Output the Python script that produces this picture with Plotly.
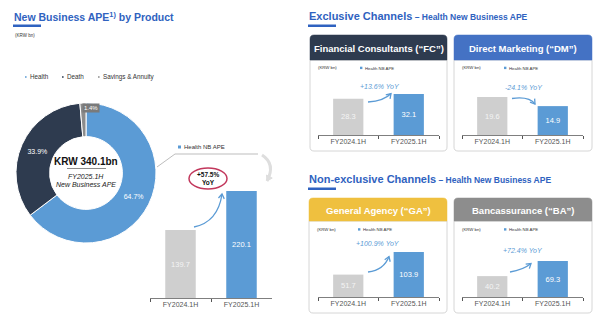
import plotly.graph_objects as go

# ---- data ----
periods = ["FY2024.1H", "FY2025.1H"]
product_names = ["Health", "Death", "Savings & Annuity"]
product_share = [64.7, 33.9, 1.4]
total_ape = "KRW 340.1bn"
health_nb_ape = [139.7, 220.1]
health_yoy = "+57.5%"
fc_ape = [28.3, 32.1]
dm_ape = [19.6, 14.9]
ga_ape = [51.7, 103.9]
ba_ape = [40.2, 69.3]
channel_yoy = {"FC": "+13.6% YoY", "DM": "-24.1% YoY", "GA": "+100.9% YoY", "BA": "+72.4% YoY"}

# ---- styling ----
W, H = 600, 324
FONT = "Liberation Sans, Arial, sans-serif"
BLUE = "#5b9bd5"
NAVY = "#2e3b4f"
SGRAY = "#8c8c8c"
BARGRAY = "#cfcfcf"
TITLE_BLUE = "#2f62c0"
AXIS_GRAY = "#7f7f7f"


def X(px):
    return px / W


def Y(py):
    return 1 - py / H


def pt(x, y):
    return f"{X(x):.5f},{Y(y):.5f}"


fig = go.Figure()
shapes = []
annotations = []


def text(s, x, y, size, color="#222", xanchor="center", bold=False, italic=False, **kw):
    if bold:
        s = f"<b>{s}</b>"
    if italic:
        s = f"<i>{s}</i>"
    annotations.append(dict(text=s, x=X(x), y=Y(y), xref="paper", yref="paper",
                            xanchor=xanchor, yanchor="middle", showarrow=False,
                            font=dict(size=size, color=color, family=FONT), **kw))


def path(d, color, width=1, fill=None, layer="above"):
    shapes.append(dict(type="path", path=d, xref="paper", yref="paper",
                       line=dict(color=color, width=width),
                       fillcolor=fill if fill else "rgba(0,0,0,0)", layer=layer))


def rect(x0, y0, x1, y1, fill, line=None, width=0, layer="below"):
    shapes.append(dict(type="rect", xref="paper", yref="paper", x0=X(x0), x1=X(x1),
                       y0=Y(y1), y1=Y(y0), fillcolor=fill,
                       line=dict(color=line or fill, width=width), layer=layer))


def curved_arrow(x0, y0, cx, cy, x1, y1, color, width=1.3, head=4.5, filled=False):
    path(f"M {pt(x0, y0)} Q {pt(cx, cy)} {pt(x1, y1)}", color, width)
    dx, dy = x1 - cx, y1 - cy
    n = (dx * dx + dy * dy) ** 0.5
    ux, uy = dx / n, dy / n
    px_, py_ = -uy, ux
    a = (x1 - ux * head + px_ * head * 0.65, y1 - uy * head + py_ * head * 0.65)
    b = (x1 - ux * head - px_ * head * 0.65, y1 - uy * head - py_ * head * 0.65)
    if filled:
        path(f"M {pt(*a)} L {pt(x1, y1)} L {pt(*b)} Z", color, 1, fill=color)
    else:
        path(f"M {pt(*a)} L {pt(x1, y1)} L {pt(*b)}", color, width)


def header_panel(x0, y0, x1, yh, y1, color, title, r=4):
    # card body with rounded lower corners
    path(f"M {pt(x0, yh)} L {pt(x1, yh)} L {pt(x1, y1 - r)} Q {pt(x1, y1)} {pt(x1 - r, y1)} "
         f"L {pt(x0 + r, y1)} Q {pt(x0, y1)} {pt(x0, y1 - r)} Z",
         "#d6d6d6", 1, fill="white", layer="below")
    # header band with rounded upper corners
    path(f"M {pt(x0, yh)} L {pt(x0, y0 + r)} Q {pt(x0, y0)} {pt(x0 + r, y0)} "
         f"L {pt(x1 - r, y0)} Q {pt(x1, y0)} {pt(x1, y0 + r)} L {pt(x1, yh)} Z",
         color, 0.5, fill=color, layer="below")
    text(title, (x0 + x1) / 2, (y0 + yh) / 2 + 0.5, 9.5, "white", bold=True)


# ---- section titles ----
annotations.append(dict(text="<b>New Business APE<sup>1)</sup> by Product</b>", x=X(12), y=Y(16),
                        xref="paper", yref="paper", xanchor="left", yanchor="middle",
                        showarrow=False, font=dict(size=10.5, color=TITLE_BLUE, family=FONT)))
rect(13, 24.5, 41, 27, TITLE_BLUE, layer="above")
text("(KRW bn)", 13, 35, 4.5, "#333", xanchor="left")

annotations.append(dict(text="<b>Exclusive Channels</b><b><span style='font-size:8.5px'> – Health New Business APE</span></b>",
                        x=X(307), y=Y(16), xref="paper", yref="paper", xanchor="left", yanchor="middle",
                        showarrow=False, font=dict(size=11, color=TITLE_BLUE, family=FONT)))
rect(308, 24.5, 336, 27, TITLE_BLUE, layer="above")
annotations.append(dict(text="<b>Non-exclusive Channels</b><b><span style='font-size:8.5px'> – Health New Business APE</span></b>",
                        x=X(307), y=Y(179), xref="paper", yref="paper", xanchor="left", yanchor="middle",
                        showarrow=False, font=dict(size=11, color=TITLE_BLUE, family=FONT)))
rect(308, 187.5, 336, 190, TITLE_BLUE, layer="above")

# ---- product legend ----
legend_x = [25, 62, 98]
for name, col, lx in zip(product_names, [BLUE, NAVY, SGRAY], legend_x):
    rect(lx, 76.2, lx + 1.6, 77.8, col, layer="above")
    text(name, lx + 2.6, 77, 6.3, "#333", xanchor="left")

# ---- donut ----
fig.add_trace(go.Pie(
    labels=product_names, values=product_share, sort=False, direction="clockwise", rotation=0,
    hole=0.52, marker=dict(colors=[BLUE, NAVY, SGRAY], line=dict(color="white", width=1)),
    texttemplate="%{value:.1f}%", textposition=["inside", "inside", "none"],
    insidetextorientation="horizontal", textfont=dict(size=7, color="white", family=FONT),
    domain=dict(x=[X(16), X(156)], y=[Y(243), Y(103)]), showlegend=False, hoverinfo="skip"))

annotations.append(dict(text=f"{product_share[2]:.1f}%", x=X(81.5), y=Y(103), xref="paper", yref="paper",
                        showarrow=False, bgcolor="#7a7a7a", borderpad=1,
                        font=dict(size=6, color="white", family=FONT)))
text(total_ape, 86, 161, 10, "#111", bold=True)
path(f"M {pt(67, 168.5)} L {pt(106, 168.5)}", "#8a8a8a", 1)
text("FY2025.1H", 86, 176.5, 7, "#222", italic=True)
text("New Business APE", 86, 184.5, 7, "#222", italic=True)

# link from the donut to the health breakdown
path(f"M {pt(157, 167)} L {pt(175, 154)} L {pt(258, 154)}", "#bdbdbd", 1)
curved_arrow(262, 155, 276, 164, 267, 181, "#dedede", width=3, head=5, filled=True)

# ---- bar charts ----
charts = [
    # axis suffix, values, x-range px, baseline py, top py, px height of tallest bar
    ("", health_nb_ape, (150, 272), 298, 150, 107),
    ("2", fc_ape, (318, 439), 135, 72, 41),
    ("3", dm_ape, (462, 583), 135, 72, 38),
    ("4", ga_ape, (318, 439), 297, 234, 45),
    ("5", ba_ape, (462, 583), 297, 234, 36),
]
for suffix, vals, (xa, xb), base, top, tallest in charts:
    ymax = max(vals) * (base - top) / tallest
    fig.add_trace(go.Bar(
        x=periods, y=vals, xaxis="x" + suffix, yaxis="y" + suffix,
        marker=dict(color=[BARGRAY, BLUE], line=dict(width=0)),
        texttemplate="%{y:.1f}", textposition="inside", insidetextanchor="middle",
        textfont=dict(size=7.5, color=["#f4f4f4", "white"], family=FONT),
        showlegend=False, hoverinfo="skip"))
    fig.update_layout(**{
        "xaxis" + suffix: dict(domain=[X(xa), X(xb)], anchor="y" + suffix, type="category",
                               range=[-0.5, 1.5], showline=True, linecolor=AXIS_GRAY, linewidth=1,
                               ticks="outside", tickson="boundaries", ticklen=3, tickcolor="#555",
                               tickfont=dict(size=7, color="#555", family=FONT), showgrid=False,
                               zeroline=False, fixedrange=True),
        "yaxis" + suffix: dict(domain=[Y(base), Y(top)], anchor="x" + suffix, range=[0, ymax],
                               visible=False, fixedrange=True),
    })

# health NB APE breakdown annotations
rect(178, 145.5, 181, 148.5, BLUE, layer="above")
text("Health NB APE", 182.5, 147, 6, "#333", xanchor="left")
shapes.append(dict(type="circle", xref="paper", yref="paper", x0=X(189), x1=X(227),
                   y0=Y(189), y1=Y(168), line=dict(color="#c2375c", width=1.5),
                   fillcolor="rgba(0,0,0,0)"))
text(health_yoy, 208, 174.5, 6.5, "#111", bold=True)
text("YoY", 208, 182, 6.5, "#111", bold=True)
curved_arrow(194, 227, 218, 222, 222, 194, BLUE, width=1.3)

# ---- channel cards ----
header_panel(310, 35, 447, 60, 151, NAVY, "Financial Consultants (“FC”)")
header_panel(454, 35, 592, 60, 151, "#4472c4", "Direct Marketing (“DM”)")
header_panel(309, 198, 447, 221, 313, "#efc03f", "General Agency (“GA”)")
header_panel(454, 198, 592, 221, 313, "#8d8d8d", "Bancassurance (“BA”)")

for cx, ky in [(316, 67), (460, 67), (315, 229), (460, 229)]:
    text("(KRW bn)", cx, ky, 4.3, "#333", xanchor="left")
for lx, ly in [(360, 68), (504, 68), (358, 229.5), (504, 229.5)]:
    rect(lx, ly - 1.3, lx + 2.4, ly + 1.1, BLUE, layer="above")
    text("Health NB APE", lx + 3, ly, 4.3, "#333", xanchor="left")

text(channel_yoy["FC"], 380, 86, 7, BLUE, italic=True)
text(channel_yoy["DM"], 524, 87, 7, BLUE, italic=True)
text(channel_yoy["GA"], 378, 243.5, 7, BLUE, italic=True)
text(channel_yoy["BA"], 523, 250, 7, BLUE, italic=True)

curved_arrow(368, 102, 384, 101, 391, 93.5, BLUE)
curved_arrow(512, 98.5, 529, 96, 535, 104, BLUE)
curved_arrow(368, 272, 384, 270, 389, 256.5, BLUE)
curved_arrow(510, 272, 523, 270, 531, 263.5, BLUE)

fig.update_layout(
    width=W, height=H, margin=dict(l=0, r=0, t=0, b=0),
    paper_bgcolor="white", plot_bgcolor="rgba(0,0,0,0)",
    bargap=0.5, shapes=shapes, annotations=annotations,
    font=dict(family=FONT),
)
fig.write_html("out.html")
